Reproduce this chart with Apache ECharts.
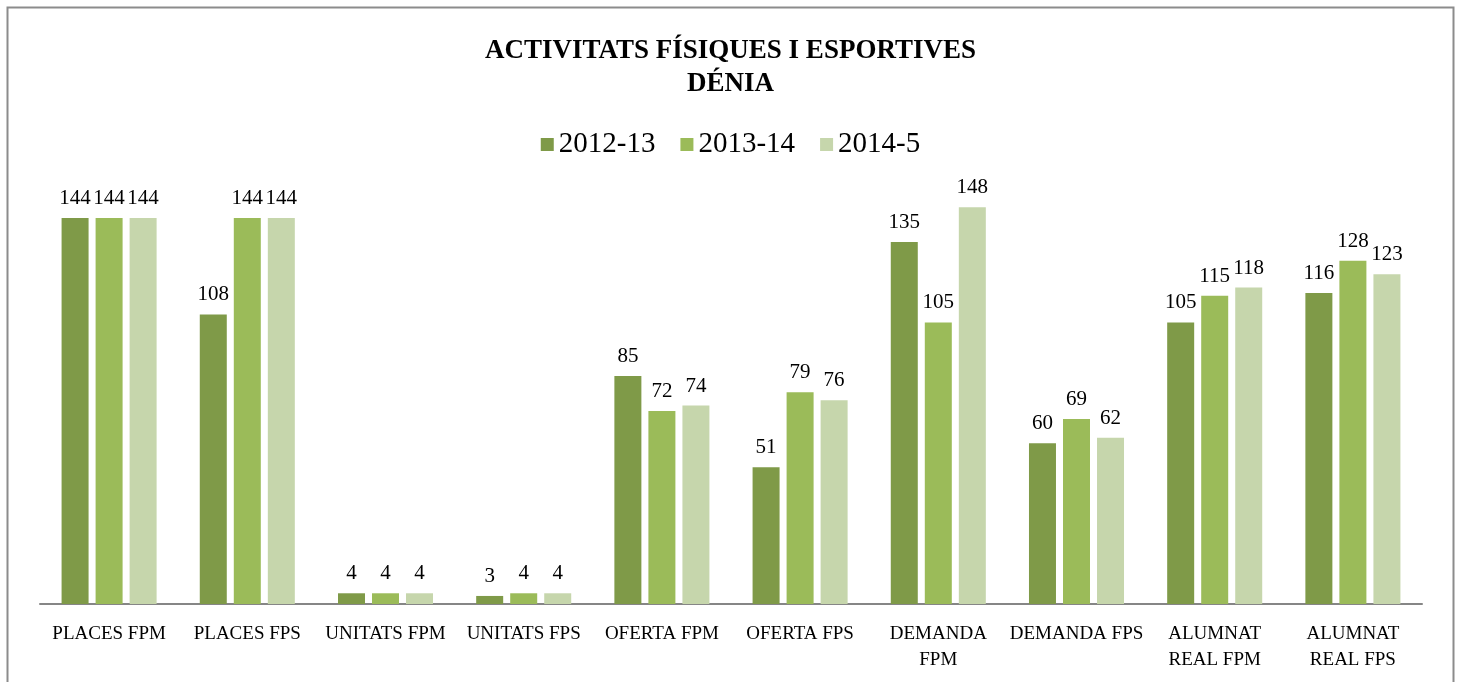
<!DOCTYPE html>
<html>
<head>
<meta charset="utf-8">
<script src="https://cdn.jsdelivr.net/npm/echarts@6/dist/echarts.min.js"></script>
<style>
  html, body { margin: 0; padding: 0; background: #fff; }
  #chart { width: 1461px; height: 682px; }
</style>
</head>
<body>
<div id="chart"></div>
<script>
// categories and values
const categories = [
  "PLACES FPM", "PLACES FPS", "UNITATS FPM", "UNITATS FPS", "OFERTA FPM",
  "OFERTA FPS", "DEMANDA\nFPM", "DEMANDA FPS", "ALUMNAT\nREAL FPM", "ALUMNAT\nREAL FPS"
];
const seriesNames = ["2012-13", "2013-14", "2014-5"];
const values2012 = [144, 108, 4, 3, 85, 51, 135, 60, 105, 116];
const values2013 = [144, 144, 4, 4, 72, 79, 105, 69, 115, 128];
const values2014 = [144, 144, 4, 4, 74, 76, 148, 62, 118, 123];
const colors = ["#7f9a48", "#9bbb59", "#c6d6ac"];

const font = "'Liberation Serif', 'DejaVu Serif', serif";
const chart = echarts.init(document.getElementById("chart"));

const allValues = [values2012, values2013, values2014];
const series = allValues.map((vals, i) => ({
  name: seriesNames[i],
  type: "bar",
  data: vals,
  barWidth: 27,
  barGap: "26%",
  itemStyle: { color: colors[i] },
  label: {
    show: true,
    position: "top",
    distance: 9,
    color: "#000",
    fontFamily: font,
    fontSize: 21
  }
}));

chart.setOption({
  color: colors,
  animation: false,
  graphic: [{
    type: "rect",
    shape: { x: 7.5, y: 7.5, width: 1446, height: 700 },
    style: { fill: null, stroke: "#8c8c8c", lineWidth: 2 }
  }],
  title: {
    text: "ACTIVITATS FÍSIQUES I ESPORTIVES\nDÉNIA",
    left: "center",
    top: 30,
    textStyle: {
      fontFamily: font,
      fontSize: 27,
      fontWeight: "bold",
      color: "#000",
      lineHeight: 33
    }
  },
  legend: {
    top: 125,
    left: "center",
    itemWidth: 13,
    itemHeight: 13,
    itemGap: 25,
    icon: "rect",
    textStyle: { fontFamily: font, fontSize: 29, color: "#000" },
    data: seriesNames
  },
  grid: { left: 40, right: 39, top: 175, bottom: 78 },
  xAxis: {
    type: "category",
    data: categories,
    axisLine: { lineStyle: { color: "#868686", width: 2 } },
    axisTick: { show: false },
    axisLabel: {
      interval: 0,
      margin: 17,
      color: "#000",
      fontFamily: font,
      fontSize: 19,
      lineHeight: 26
    }
  },
  yAxis: {
    type: "value",
    min: 0,
    max: 160,
    show: false
  },
  series: series
});
</script>
</body>
</html>
